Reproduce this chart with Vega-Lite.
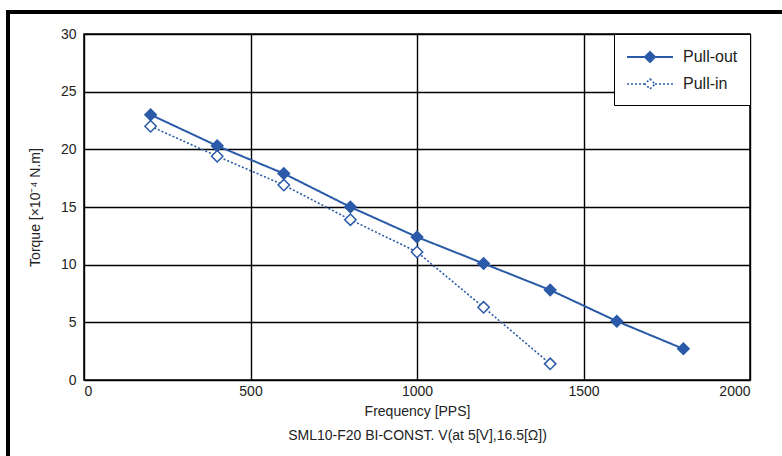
{
  "$schema": "https://vega.github.io/schema/vega-lite/v6.json",
  "width": 666,
  "height": 346,
  "autosize": "none",
  "padding": {"left": 84, "top": 34, "right": 32, "bottom": 76},
  "background": "white",
  "config": {
    "font": "Liberation Sans",
    "view": {"stroke": "black", "strokeWidth": 1.5},
    "axis": {
      "labelFont": "Liberation Sans",
      "labelFontSize": 14,
      "labelColor": "#222",
      "titleFont": "Liberation Sans",
      "titleFontSize": 14,
      "titleFontWeight": "normal",
      "titleColor": "#222",
      "grid": true,
      "gridColor": "black",
      "gridWidth": 1.4,
      "gridOpacity": 1,
      "domain": false,
      "ticks": false
    },
    "legend": {
      "labelFont": "Liberation Sans",
      "labelFontSize": 16,
      "labelColor": "#222"
    }
  },
  "data": {
    "values": [
      {"freq": 200, "torque": 23.0, "series": "Pull-out"},
      {"freq": 400, "torque": 20.3, "series": "Pull-out"},
      {"freq": 600, "torque": 17.9, "series": "Pull-out"},
      {"freq": 800, "torque": 15.0, "series": "Pull-out"},
      {"freq": 1000, "torque": 12.4, "series": "Pull-out"},
      {"freq": 1200, "torque": 10.1, "series": "Pull-out"},
      {"freq": 1400, "torque": 7.8, "series": "Pull-out"},
      {"freq": 1600, "torque": 5.1, "series": "Pull-out"},
      {"freq": 1800, "torque": 2.7, "series": "Pull-out"},
      {"freq": 200, "torque": 22.0, "series": "Pull-in"},
      {"freq": 400, "torque": 19.4, "series": "Pull-in"},
      {"freq": 600, "torque": 16.9, "series": "Pull-in"},
      {"freq": 800, "torque": 13.9, "series": "Pull-in"},
      {"freq": 1000, "torque": 11.1, "series": "Pull-in"},
      {"freq": 1200, "torque": 6.3, "series": "Pull-in"},
      {"freq": 1400, "torque": 1.4, "series": "Pull-in"}
    ]
  },
  "encoding": {
    "x": {
      "field": "freq", "type": "quantitative",
      "scale": {"domain": [0, 2000], "nice": false},
      "axis": {"values": [0, 500, 1000, 1500, 2000], "format": "d", "title": ["Frequency [PPS]", "SML10-F20 BI-CONST. V(at 5[V],16.5[Ω])"], "titleLineHeight": 24, "labelPadding": 4, "titlePadding": 6}
    },
    "y": {
      "field": "torque", "type": "quantitative",
      "scale": {"domain": [0, 30], "nice": false},
      "axis": {"values": [0, 5, 10, 15, 20, 25, 30], "title": "Torque [×10⁻⁴ N.m]", "labelPadding": 8, "titlePadding": 18}
    }
  },
  "layer": [
    {
      "mark": {"type": "rect", "fill": null, "stroke": "black", "strokeWidth": 3, "clip": false},
      "encoding": {
        "x": {"datum": -228, "type": "quantitative"},
        "x2": {"datum": 2110},
        "y": {"datum": 31.9, "type": "quantitative"},
        "y2": {"datum": -8}
      }
    },
    {
      "mark": {"type": "line", "color": "#2a5aa8"},
      "encoding": {
        "detail": {"field": "series"},
        "strokeDash": {
          "field": "series", "type": "nominal",
          "scale": {"domain": ["Pull-out", "Pull-in"], "range": [[1, 0], [2, 2]]},
          "legend": {
            "title": null,
            "orient": "top-right",
            "offset": 0,
            "padding": 12,
            "strokeColor": "black",
            "fillColor": "white",
            "symbolType": "M-2.3,0L-0.5,0M0.5,0L2.3,0M0,-0.5L0.5,0L0,0.5L-0.5,0Z",
            "symbolSize": 400,
            "symbolOffset": 13,
            "symbolStrokeColor": "#2a5aa8",
            "symbolStrokeWidth": 1.5,
            "rowPadding": 7,
            "labelOffset": 22
          }
        },
        "strokeWidth": {
          "field": "series", "type": "nominal",
          "scale": {"domain": ["Pull-out", "Pull-in"], "range": [2, 1.6]},
          "legend": null
        }
      }
    },
    {
      "mark": {"type": "point", "shape": "diamond", "size": 130, "stroke": "#2a5aa8", "strokeWidth": 1.5, "opacity": 1, "filled": true},
      "encoding": {
        "fill": {
          "field": "series", "type": "nominal",
          "scale": {"domain": ["Pull-out", "Pull-in"], "range": ["#2a5aa8", "white"]},
          "legend": {
            "title": null,
            "orient": "top-right",
            "offset": 0,
            "padding": 12,
            "strokeColor": "black",
            "fillColor": "white",
            "symbolType": "M-2.3,0L-0.5,0M0.5,0L2.3,0M0,-0.5L0.5,0L0,0.5L-0.5,0Z",
            "symbolSize": 400,
            "symbolOffset": 13,
            "symbolStrokeColor": "#2a5aa8",
            "symbolStrokeWidth": 1.5,
            "rowPadding": 7,
            "labelOffset": 22
          }
        }
      }
    }
  ]
}
